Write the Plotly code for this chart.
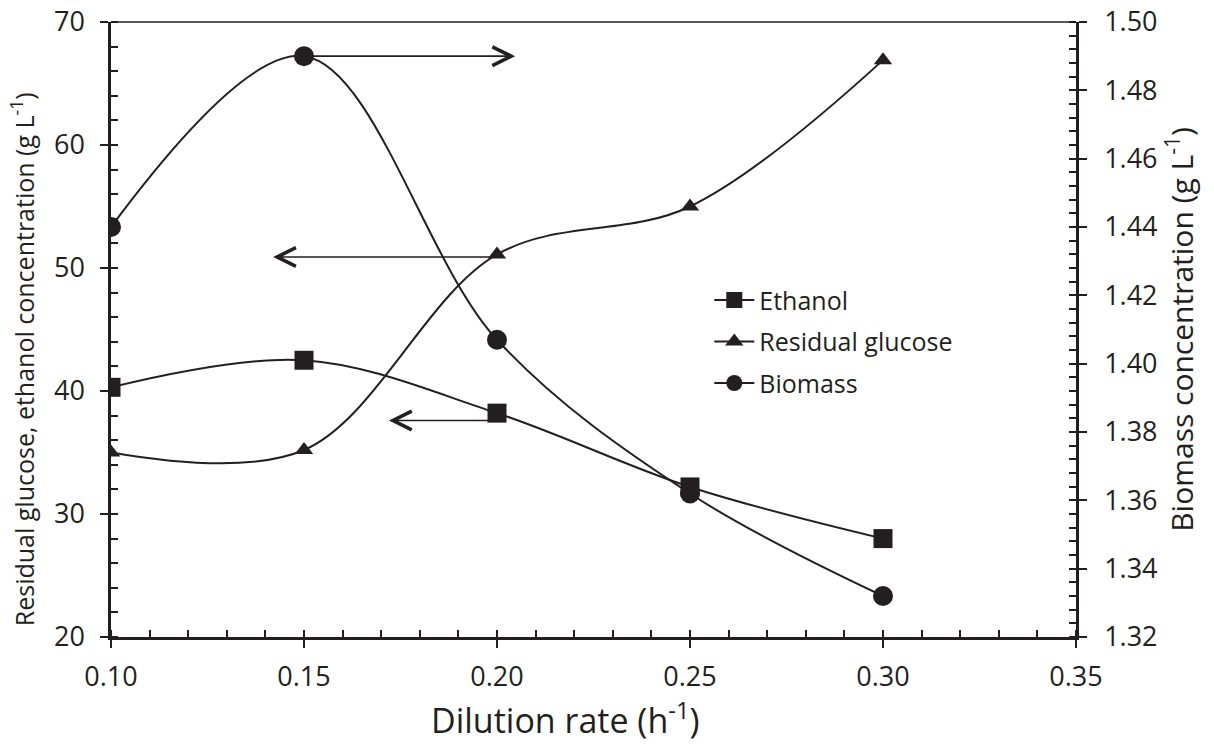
import plotly.graph_objects as go

# ---- data ----
dilution_rate = [0.10, 0.15, 0.20, 0.25, 0.30]
ethanol = [40.3, 42.5, 38.2, 32.2, 28.0]
residual_glucose = [35.0, 35.2, 51.1, 55.0, 66.9]
biomass = [1.440, 1.490, 1.407, 1.362, 1.332]

x_ticks = [0.10, 0.15, 0.20, 0.25, 0.30, 0.35]
y_left_ticks = [20, 30, 40, 50, 60, 70]
y_right_ticks = [1.32, 1.34, 1.36, 1.38, 1.40, 1.42, 1.44, 1.46, 1.48, 1.50]

INK = "#231f20"
FONT = "Open Sans"
FS = 27

fig = go.Figure()

line_style = dict(color=INK, width=2, shape="spline", smoothing=1.0)

fig.add_trace(go.Scatter(
    x=dilution_rate, y=ethanol, name="Ethanol", mode="lines+markers",
    line=line_style, marker=dict(symbol="square", size=19, color=INK),
    xaxis="x", yaxis="y", legendgroup="a"))
fig.add_trace(go.Scatter(
    x=dilution_rate, y=residual_glucose, name="Residual glucose", mode="lines+markers",
    line=line_style, marker=dict(symbol="triangle-up", size=16, color=INK),
    xaxis="x", yaxis="y", legendgroup="b"))
fig.add_trace(go.Scatter(
    x=dilution_rate, y=biomass, name="Biomass", mode="lines+markers",
    line=line_style, marker=dict(symbol="circle", size=20, color=INK),
    xaxis="x", yaxis="y2", legendgroup="c"))

# invisible helper traces so the overlay (inner major tick) axes are drawn
for xa, ya in [("x3", "y"), ("x", "y3"), ("x", "y4")]:
    fig.add_trace(go.Scatter(x=[None], y=[None], xaxis=xa, yaxis=ya,
                             showlegend=False, hoverinfo="skip", mode="markers"))

tickfont = dict(family=FONT, size=FS, color=INK)

fig.update_layout(
    width=1214, height=744,
    margin=dict(l=111, r=138, t=22, b=107, autoexpand=False),
    plot_bgcolor="white", paper_bgcolor="white",
    font=dict(family=FONT, size=FS, color=INK),
    showlegend=True,
    legend=dict(x=0.62, y=0.585, xanchor="left", yanchor="top",
                bgcolor="rgba(0,0,0,0)", font=dict(family=FONT, size=25, color=INK),
                traceorder="grouped", tracegroupgap=6, itemwidth=40),
    xaxis=dict(
        range=[0.10, 0.35], tickvals=x_ticks, ticktext=[f"{v:.2f}" for v in x_ticks],
        showline=True, linecolor=INK, linewidth=2.5, showgrid=False, zeroline=False,
        ticks="outside", ticklen=8, tickwidth=2, tickcolor=INK, tickfont=tickfont,
        ticklabelstandoff=6, automargin=False,
        minor=dict(ticks="inside", ticklen=7, tickwidth=2, tickcolor=INK, dtick=0.01, showgrid=False),
        anchor="y"),
    xaxis3=dict(
        range=[0.10, 0.35], overlaying="x", tickvals=x_ticks, showticklabels=False,
        ticks="inside", ticklen=7, tickwidth=2, tickcolor=INK, showline=False,
        showgrid=False, zeroline=False, anchor="y", automargin=False),
    yaxis=dict(
        range=[20, 70], tickvals=y_left_ticks,
        showline=True, linecolor=INK, linewidth=2.5, showgrid=False, zeroline=False,
        ticks="outside", ticklen=8, tickwidth=2, tickcolor=INK, tickfont=tickfont,
        ticklabelstandoff=10, automargin=False,
        minor=dict(ticks="inside", ticklen=7, tickwidth=2, tickcolor=INK, dtick=2, showgrid=False),
        anchor="x"),
    yaxis3=dict(
        range=[20, 70], overlaying="y", tickvals=y_left_ticks, showticklabels=False,
        ticks="inside", ticklen=7, tickwidth=2, tickcolor=INK, showline=False,
        showgrid=False, zeroline=False, anchor="x", side="left", automargin=False),
    yaxis2=dict(
        range=[1.32, 1.50], tickvals=y_right_ticks, ticktext=[f"{v:.2f}" for v in y_right_ticks],
        overlaying="y", side="right", anchor="x",
        showline=True, linecolor=INK, linewidth=2.5, showgrid=False, zeroline=False,
        ticks="outside", ticklen=8, tickwidth=2, tickcolor=INK, tickfont=tickfont,
        ticklabelstandoff=12, automargin=False,
        minor=dict(ticks="inside", ticklen=7, tickwidth=2, tickcolor=INK, dtick=0.004, showgrid=False),
        title=dict(text="Biomass concentration (g L<sup>-1</sup>)",
                   font=dict(family=FONT, size=30, color=INK), standoff=16)),
    yaxis4=dict(
        range=[1.32, 1.50], overlaying="y", side="right", anchor="x",
        tickvals=y_right_ticks, showticklabels=False,
        ticks="inside", ticklen=7, tickwidth=2, tickcolor=INK, showline=False,
        showgrid=False, zeroline=False, automargin=False),
)

# axis titles placed as in the reference (x title sits left of centre)
fig.add_annotation(text="Dilution rate (h<sup>-1</sup>)", xref="paper", yref="paper",
                   x=0.4715, y=-0.1325, xanchor="center", yanchor="middle", showarrow=False,
                   borderpad=0, font=dict(family=FONT, size=34, color=INK))
fig.add_annotation(text="Residual glucose, ethanol concentration (g L<sup>-1</sup>)",
                   xref="paper", yref="paper", x=-0.092, y=0.452, textangle=-90,
                   xanchor="center", yanchor="middle", showarrow=False,
                   font=dict(family=FONT, size=25, color=INK))

# thin top border
fig.add_shape(type="line", xref="paper", yref="paper", x0=0, x1=1, y0=1, y1=1,
              line=dict(color=INK, width=1.5))

# direction arrows (pointing to the axis each curve belongs to)
arrow_common = dict(text="", showarrow=True, arrowhead=5, arrowsize=2.3, arrowwidth=1.6,
                    arrowcolor=INK, standoff=0, startstandoff=0)
fig.add_annotation(x=0.2047, y=biomass[1], xref="x", yref="y2",
                   ax=dilution_rate[1], ay=biomass[1], axref="x", ayref="y2", **arrow_common)
fig.add_annotation(x=0.142, y=50.9, xref="x", yref="y",
                   ax=dilution_rate[2], ay=50.9, axref="x", ayref="y", **arrow_common)
fig.add_annotation(x=0.172, y=37.6, xref="x", yref="y",
                   ax=dilution_rate[2], ay=37.6, axref="x", ayref="y", **arrow_common)

fig.write_html("out.html")
